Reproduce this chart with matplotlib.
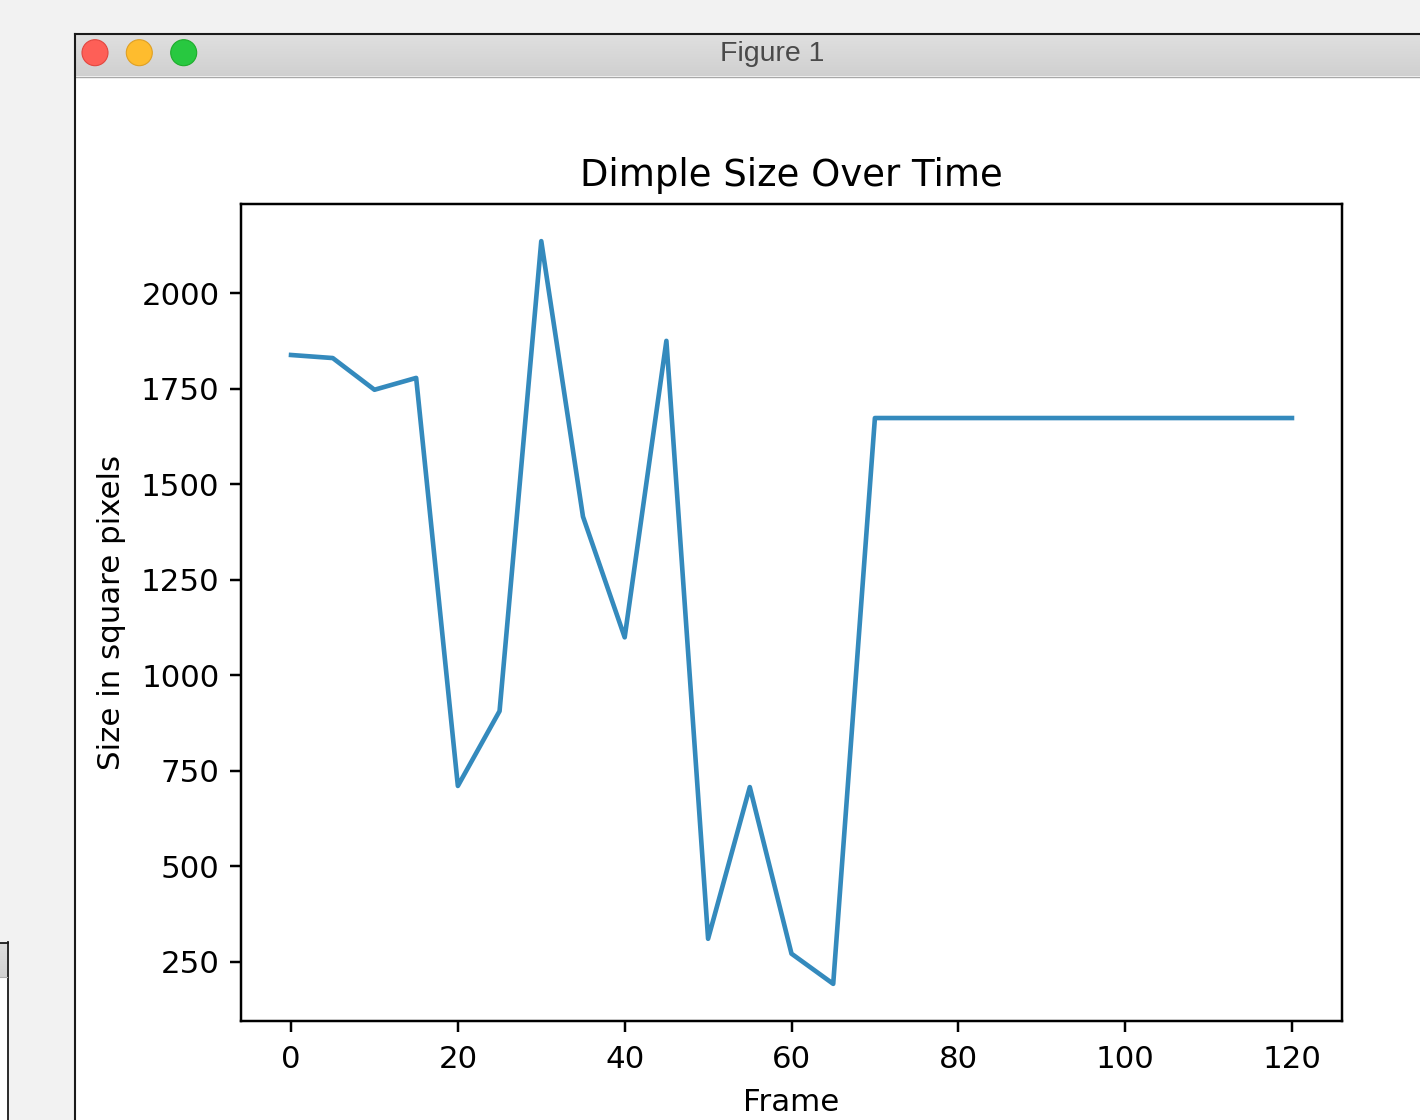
import numpy as np
import matplotlib
matplotlib.use('Agg')
import matplotlib.pyplot as plt
from matplotlib.patches import Rectangle, Circle

# ---- data ----
frames = [0, 5, 10, 15, 20, 25, 30, 35, 40, 45, 50, 55, 60, 65, 70,
          75, 80, 85, 90, 95, 100, 105, 110, 115, 120]
sizes = [1838, 1830, 1747, 1778, 710, 906, 2136, 1415, 1099, 1875, 310, 707,
         271, 192, 1673, 1673, 1673, 1673, 1673, 1673, 1673, 1673, 1673, 1673, 1673]
x_ticks = [0, 20, 40, 60, 80, 100, 120]
y_ticks = [250, 500, 750, 1000, 1250, 1500, 1750, 2000]
title = "Dimple Size Over Time"
xlabel = "Frame"
ylabel = "Size in square pixels"
window_title = "Figure 1"

S = 2.22  # retina-like scale factor
W, H = 1420, 1120

fig = plt.figure(figsize=(W / 100, H / 100), dpi=100)

# ---- window chrome (pixel coordinates) ----
bg = fig.add_axes([0, 0, 1, 1])
bg.set_xlim(0, W)
bg.set_ylim(H, 0)
bg.axis('off')
bg.set_zorder(0)

bg.add_patch(Rectangle((0, 0), W, H, facecolor='#f2f2f2', edgecolor='none'))

# small window at the left bottom
bg.add_patch(Rectangle((-20, 942), 27.5, 300, facecolor='white', edgecolor='none'))
grad2 = np.linspace(0.87, 0.82, 50).reshape(-1, 1)
bg.imshow(np.dstack([grad2] * 3), extent=[0, 7, 977, 943], aspect='auto',
          interpolation='bilinear', zorder=2)
bg.plot([7.5, 7.5], [942, H + 5], color='#1a1a1a', lw=1.3, zorder=3)
bg.plot([-5, 7.5], [942.5, 942.5], color='#1a1a1a', lw=1.3, zorder=3)
bg.plot([0, 7], [977, 977], color='#b0b0b0', lw=0.8, zorder=3)

# main window
bg.add_patch(Rectangle((75, 34), W, H, facecolor='white', edgecolor='none', zorder=1))
grad = np.linspace(0.875, 0.815, 60).reshape(-1, 1)
bg.imshow(np.dstack([grad] * 3), extent=[76, W, 76, 35], aspect='auto',
          interpolation='bilinear', zorder=2)
bg.plot([76, W], [76.5, 76.5], color='#a8a8a8', lw=1.0, zorder=3)
bg.plot([74.5, W + 5], [34, 34], color='#1a1a1a', lw=1.5, zorder=3)
bg.plot([75, 75], [33.5, H + 5], color='#1a1a1a', lw=1.5, zorder=3)

for cx, fc, ec in [(95, '#fe5f57', '#e2463f'),
                   (139.3, '#febc2e', '#dfa023'),
                   (183.7, '#28c840', '#1dad2b')]:
    bg.add_patch(Circle((cx, 52.7), 13.0, facecolor=fc, edgecolor=ec, lw=0.8, zorder=4))

bg.text(772, 54, window_title, ha='center', va='center', fontsize=20.5,
        family='Liberation Sans', color='#4a4a4a', zorder=4)

# ---- chart ----
ax = fig.add_axes([241 / W, (H - 1021) / H, 1101 / W, 817 / H])
ax.set_zorder(5)
ax.set_facecolor('white')
ax.plot(frames, sizes, color='#348ABD', lw=1.5 * S)
ax.set_xticks(x_ticks)
ax.set_yticks(y_ticks)
for sp in ax.spines.values():
    sp.set_linewidth(0.8 * S)
ax.tick_params(length=3.5 * S, width=0.8 * S, pad=3.5 * S, labelsize=10 * S)
ax.tick_params(axis='x', pad=3.5 * S + 1.5)
ax.set_title(title, fontsize=12 * S, pad=6 * S)
ax.set_xlabel(xlabel, fontsize=10 * S, labelpad=4 * S + 1.5)
ax.set_ylabel(ylabel, fontsize=10 * S, labelpad=4 * S + 1.5)

fig.savefig('out.png', dpi=100)
